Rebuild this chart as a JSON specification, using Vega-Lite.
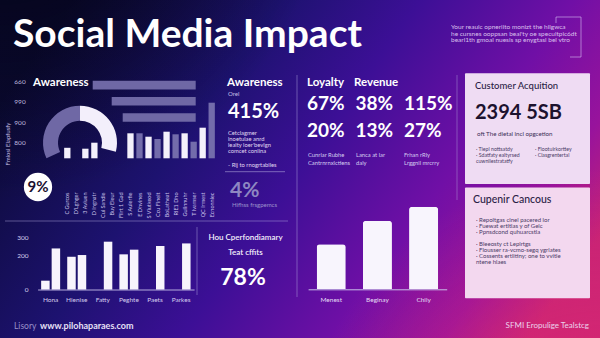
{
  "$schema": "https://vega.github.io/schema/vega-lite/v6.json",
  "width": 600,
  "height": 338,
  "autosize": {"type": "fit", "contains": "padding"},
  "padding": 0,
  "background": "#2a0f6e",
  "config": {"view": {"stroke": null}, "font": "Lato", "axis": {"labelFont": "Lato", "zindex": 1}},
  "resolve": {"scale": {"x": "independent", "y": "independent", "color": "independent", "theta": "independent", "xOffset": "independent"}},
  "layer": [
    {
      "data": {"values": [{"layer": "background"}]},
      "mark": {"type": "rect", "color": {"gradient": "linear", "x1": 0, "y1": 0.3, "x2": 1, "y2": 0.7, "stops": [{"offset": 0, "color": "#0b0a35"}, {"offset": 0.3, "color": "#1d1270"}, {"offset": 0.5, "color": "#3c0f96"}, {"offset": 0.72, "color": "#700fa6"}, {"offset": 0.88, "color": "#98139c"}, {"offset": 1, "color": "#c42276"}]}},
      "encoding": {}
    },
    {
      "data": {"values": [{"layer": "shade"}]},
      "mark": {"type": "rect", "color": {"gradient": "radial", "x1": 0, "y1": 0, "r1": 0, "x2": 0, "y2": 0, "r2": 0.55, "stops": [{"offset": 0, "color": "rgba(2,2,12,0.85)"}, {"offset": 1, "color": "rgba(2,2,12,0)"}]}},
      "encoding": {}
    },
    {
      "data": {"values": [{"layer": "glow"}]},
      "mark": {"type": "rect", "color": {"gradient": "radial", "x1": 1, "y1": 1, "r1": 0, "x2": 1, "y2": 1, "r2": 0.5, "stops": [{"offset": 0, "color": "rgba(235,45,110,0.65)"}, {"offset": 1, "color": "rgba(235,45,110,0)"}]}},
      "encoding": {}
    },
    {
      "data": {"values": [{"t": "Social Media Impact"}]},
      "mark": {"type": "text", "align": "left", "baseline": "alphabetic", "fontSize": 39, "fontWeight": "bold", "color": "#ffffff"},
      "encoding": {
        "text": {"field": "t"},
        "x": {"datum": 0, "type": "quantitative", "scale": {"domain": [0, 1], "range": [13, 14]}, "axis": null},
        "y": {"datum": 0, "type": "quantitative", "scale": {"domain": [0, 1], "range": [47, 48]}, "axis": null}
      }
    },
    {
      "data": {"values": [
        {"t": "Your reaulc opneriito monizt the hilgwca", "line": 1},
        {"t": "he cursnes ooppsan beal'ty oe specultpic6dt", "line": 2},
        {"t": "bearl1th gmoal nuesis sp enygtasl  bel vtro", "line": 3}
      ]},
      "mark": {"type": "text", "align": "left", "baseline": "middle", "fontSize": 6.5, "color": "#e2d2f5", "opacity": 0.9},
      "encoding": {
        "text": {"field": "t"},
        "x": {"datum": 0, "type": "quantitative", "scale": {"domain": [0, 1], "range": [451, 452]}, "axis": null},
        "y": {"field": "line", "type": "quantitative", "scale": {"domain": [1, 3], "range": [27, 40], "nice": false, "zero": false}, "axis": null}
      }
    },
    {
      "data": {"values": [{"part": "top"}]},
      "mark": {"type": "rule", "color": "#d6c0f2", "opacity": 0.6, "strokeWidth": 1},
      "encoding": {
        "x": {"datum": 0, "type": "quantitative", "scale": {"domain": [0, 1], "range": [556, 581]}, "axis": null},
        "x2": {"datum": 1},
        "y": {"datum": 0, "type": "quantitative", "scale": {"domain": [0, 1], "range": [17, 18]}, "axis": null}
      }
    },
    {
      "data": {"values": [{"part": "right"}]},
      "mark": {"type": "rule", "color": "#d6c0f2", "opacity": 0.6, "strokeWidth": 1},
      "encoding": {
        "x": {"datum": 0, "type": "quantitative", "scale": {"domain": [0, 1], "range": [581, 582]}, "axis": null},
        "y": {"datum": 0, "type": "quantitative", "scale": {"domain": [0, 1], "range": [17, 57]}, "axis": null},
        "y2": {"datum": 1}
      }
    },
    {
      "data": {"values": [{"part": "bottom"}]},
      "mark": {"type": "rule", "color": "#d6c0f2", "opacity": 0.6, "strokeWidth": 1},
      "encoding": {
        "x": {"datum": 0, "type": "quantitative", "scale": {"domain": [0, 1], "range": [570, 581]}, "axis": null},
        "x2": {"datum": 1},
        "y": {"datum": 0, "type": "quantitative", "scale": {"domain": [0, 1], "range": [57, 58]}, "axis": null}
      }
    },
    {
      "data": {"values": [{"part": "left"}]},
      "mark": {"type": "rule", "color": "#d6c0f2", "opacity": 0.6, "strokeWidth": 1},
      "encoding": {
        "x": {"datum": 0, "type": "quantitative", "scale": {"domain": [0, 1], "range": [556, 557]}, "axis": null},
        "y": {"datum": 0, "type": "quantitative", "scale": {"domain": [0, 1], "range": [17, 23]}, "axis": null},
        "y2": {"datum": 1}
      }
    },
    {
      "data": {"values": [{"divider": "kpi-left"}]},
      "mark": {"type": "rule", "color": "#b8aee2", "opacity": 0.45, "strokeWidth": 1},
      "encoding": {
        "x": {"datum": 0, "type": "quantitative", "scale": {"domain": [0, 1], "range": [297, 298]}, "axis": null},
        "y": {"datum": 0, "type": "quantitative", "scale": {"domain": [0, 1], "range": [75, 297]}, "axis": null},
        "y2": {"datum": 1}
      }
    },
    {
      "data": {"values": [{"divider": "kpi-right"}]},
      "mark": {"type": "rule", "color": "#b8aee2", "opacity": 0.4, "strokeWidth": 1},
      "encoding": {
        "x": {"datum": 0, "type": "quantitative", "scale": {"domain": [0, 1], "range": [457, 458]}, "axis": null},
        "y": {"datum": 0, "type": "quantitative", "scale": {"domain": [0, 1], "range": [75, 200]}, "axis": null},
        "y2": {"datum": 1}
      }
    },
    {
      "data": {"values": [{"divider": "middle-horizontal"}]},
      "mark": {"type": "rule", "color": "#b8aee2", "opacity": 0.45, "strokeWidth": 1},
      "encoding": {
        "x": {"datum": 0, "type": "quantitative", "scale": {"domain": [0, 1], "range": [5, 288]}, "axis": null},
        "x2": {"datum": 1},
        "y": {"datum": 0, "type": "quantitative", "scale": {"domain": [0, 1], "range": [221, 222]}, "axis": null}
      }
    },
    {
      "data": {"values": [{"divider": "bottom-left-vertical"}]},
      "mark": {"type": "rule", "color": "#b8aee2", "opacity": 0.45, "strokeWidth": 1},
      "encoding": {
        "x": {"datum": 0, "type": "quantitative", "scale": {"domain": [0, 1], "range": [197, 198]}, "axis": null},
        "y": {"datum": 0, "type": "quantitative", "scale": {"domain": [0, 1], "range": [227, 295]}, "axis": null},
        "y2": {"datum": 1}
      }
    },
    {
      "data": {"values": [{"divider": "awareness-note"}]},
      "mark": {"type": "rule", "color": "#b8aee2", "opacity": 0.55, "strokeWidth": 1},
      "encoding": {
        "x": {"datum": 0, "type": "quantitative", "scale": {"domain": [0, 1], "range": [225, 285]}, "axis": null},
        "x2": {"datum": 1},
        "y": {"datum": 0, "type": "quantitative", "scale": {"domain": [0, 1], "range": [171.7, 172.7]}, "axis": null}
      }
    },
    {
      "data": {"values": [
        {"t": "Awareness", "col": 1},
        {"t": "Awareness", "col": 2},
        {"t": "Loyalty", "col": 3},
        {"t": "Revenue", "col": 4}
      ]},
      "mark": {"type": "text", "align": "left", "baseline": "middle", "fontSize": 11.5, "fontWeight": "bold", "color": "#ffffff"},
      "encoding": {
        "text": {"field": "t"},
        "x": {"field": "col", "type": "quantitative", "scale": {"domain": [1, 2, 3, 4], "range": [33, 227, 307, 354], "nice": false, "zero": false}, "axis": null},
        "y": {"datum": 0, "type": "quantitative", "scale": {"domain": [0, 1], "range": [83, 84]}, "axis": null}
      }
    },
    {
      "data": {"values": [
        {"t": "660", "line": 1},
        {"t": "990", "line": 2},
        {"t": "900", "line": 3},
        {"t": "800", "line": 4}
      ]},
      "mark": {"type": "text", "align": "center", "baseline": "middle", "fontSize": 6.5, "color": "#bdb5de"},
      "encoding": {
        "text": {"field": "t"},
        "x": {"datum": 0, "type": "quantitative", "scale": {"domain": [0, 1], "range": [20, 21]}, "axis": null},
        "y": {"field": "line", "type": "quantitative", "scale": {"domain": [1, 4], "range": [82, 143], "nice": false, "zero": false}, "axis": null}
      }
    },
    {
      "data": {"values": [{"t": "Fmiosi Elapfusfy"}]},
      "mark": {"type": "text", "align": "center", "baseline": "middle", "angle": 270, "fontSize": 6, "color": "#c6bee6"},
      "encoding": {
        "text": {"field": "t"},
        "x": {"datum": 0, "type": "quantitative", "scale": {"domain": [0, 1], "range": [8, 9]}, "axis": null},
        "y": {"datum": 0, "type": "quantitative", "scale": {"domain": [0, 1], "range": [144, 145]}, "axis": null}
      }
    },
    {
      "data": {"values": [
        {"name": "Reach", "len": 103},
        {"name": "Engagement", "len": 84},
        {"name": "Mentions", "len": 73}
      ]},
      "mark": {"type": "bar", "color": "#6f68a5"},
      "encoding": {
        "x": {"field": "len", "type": "quantitative", "scale": {"domain": [0, 120], "range": [195.7, 75.7], "nice": false, "zero": false}, "axis": null},
        "y": {"field": "name", "type": "nominal", "scale": {"domain": ["Reach", "Engagement", "Mentions"], "range": [77, 125.6], "paddingInner": 0.47, "paddingOuter": 0.235}, "axis": null}
      }
    },
    {
      "data": {"values": [
        {"seg": "Base", "v": 115, "rank": 1},
        {"seg": "Growth", "v": 104, "rank": 2}
      ]},
      "mark": {"type": "arc", "radius": 37, "radius2": 22},
      "encoding": {
        "theta": {"field": "v", "type": "quantitative", "stack": true, "scale": {"range": [-2.007, 1.815]}},
        "order": {"field": "rank", "type": "quantitative"},
        "color": {"field": "seg", "type": "nominal", "scale": {"domain": ["Base", "Growth"], "range": ["#6f68a5", "#f3effb"]}, "legend": null},
        "x": {"datum": 0, "type": "quantitative", "scale": {"domain": [0, 1], "range": [80, 81]}, "axis": null},
        "y": {"datum": 0, "type": "quantitative", "scale": {"domain": [0, 1], "range": [142.7, 143.7]}, "axis": null}
      }
    },
    {
      "data": {"values": [
        {"cat": "C Gurcos", "v": 10.5, "tone": "light"},
        {"cat": "3 Aviuen", "v": 9.6, "tone": "light"},
        {"cat": "D Ingnatr", "v": 15.6, "tone": "light"},
        {"cat": "S Aulerfie", "v": 25, "tone": "light"},
        {"cat": "E Dhvines", "v": 25, "tone": "muted"},
        {"cat": "S Viutkeod", "v": 21.6, "tone": "light"},
        {"cat": "Ccu Finelt", "v": 19.3, "tone": "muted"},
        {"cat": "BoLatheat", "v": 26.6, "tone": "light"},
        {"cat": "RIE1 Dho", "v": 24, "tone": "muted"},
        {"cat": "Gulinnuhr", "v": 25, "tone": "light"},
        {"cat": "T Ivamser", "v": 16.6, "tone": "muted"},
        {"cat": "QC Irmest", "v": 30.6, "tone": "light"},
        {"cat": "Ecnonniec", "v": 55.6, "tone": "muted"}
      ]},
      "mark": {"type": "bar"},
      "encoding": {
        "x": {"field": "cat", "type": "nominal", "scale": {"domain": ["C Gurcos", "D'Lghger", "3 Aviuen", "D Ingnatr", "Cui Sandle", "Buy Eleur", "Flirt 1 Gad", "S Aulerfie", "E Dhvines", "S Viutkeod", "Ccu Finelt", "BoLatheat", "RIE1 Dho", "Gulinnuhr", "T Ivamser", "QC Irmest", "Ecnonniec"], "range": [62.8, 216.2], "paddingInner": 0.3, "paddingOuter": 0.15},
          "axis": {"orient": "bottom", "offset": -149, "zindex": 1, "title": null, "ticks": false, "domain": false, "grid": false, "labelAngle": 270, "labelAlign": "right", "labelBaseline": "middle", "labelFontSize": 5.5, "labelColor": "#cbc3ea", "labelPadding": 3, "labelOverlap": false}},
        "y": {"field": "v", "type": "quantitative", "scale": {"domain": [0, 60], "range": [158.3, 98.3], "nice": false, "zero": false}, "axis": null},
        "color": {"field": "tone", "type": "nominal", "scale": {"domain": ["light", "muted"], "range": ["#f4f1fb", "#736cab"]}, "legend": null}
      }
    },
    {
      "data": {"values": [{"t": "9%"}]},
      "encoding": {
        "x": {"datum": 0, "type": "quantitative", "scale": {"domain": [0, 1], "range": [38, 39]}, "axis": null},
        "y": {"datum": 0, "type": "quantitative", "scale": {"domain": [0, 1], "range": [187, 188]}, "axis": null}
      },
      "layer": [
        {"mark": {"type": "point", "shape": "circle", "filled": true, "size": 800, "color": "#ffffff", "opacity": 1}},
        {"mark": {"type": "text", "fontSize": 15, "fontWeight": "bold", "color": "#1a1030", "align": "center", "baseline": "middle"}, "encoding": {"text": {"field": "t"}}}
      ]
    },
    {
      "data": {"values": [{"t": "Orel"}]},
      "mark": {"type": "text", "align": "left", "baseline": "middle", "fontSize": 6, "color": "#c8c0e8"},
      "encoding": {
        "text": {"field": "t"},
        "x": {"datum": 0, "type": "quantitative", "scale": {"domain": [0, 1], "range": [228, 229]}, "axis": null},
        "y": {"datum": 0, "type": "quantitative", "scale": {"domain": [0, 1], "range": [94, 95]}, "axis": null}
      }
    },
    {
      "data": {"values": [{"t": "415%"}]},
      "mark": {"type": "text", "align": "left", "baseline": "middle", "fontSize": 20, "fontWeight": "bold", "color": "#ffffff"},
      "encoding": {
        "text": {"field": "t"},
        "x": {"datum": 0, "type": "quantitative", "scale": {"domain": [0, 1], "range": [228, 229]}, "axis": null},
        "y": {"datum": 0, "type": "quantitative", "scale": {"domain": [0, 1], "range": [112, 113]}, "axis": null}
      }
    },
    {
      "data": {"values": [
        {"t": "Cetclagmer", "line": 1},
        {"t": "lnoetulae anrd", "line": 2},
        {"t": "lealty loer'bevlgn", "line": 3},
        {"t": "comcet conlina", "line": 4},
        {"t": "- Rij to rnogrtabiles", "line": 5}
      ]},
      "mark": {"type": "text", "align": "left", "baseline": "middle", "fontSize": 5.8, "color": "#e0d8f2"},
      "encoding": {
        "text": {"field": "t"},
        "x": {"datum": 0, "type": "quantitative", "scale": {"domain": [0, 1], "range": [228, 229]}, "axis": null},
        "y": {"field": "line", "type": "quantitative", "scale": {"domain": [1, 4, 5], "range": [133, 151, 165], "nice": false, "zero": false}, "axis": null}
      }
    },
    {
      "data": {"values": [{"t": "4%"}]},
      "mark": {"type": "text", "align": "left", "baseline": "middle", "fontSize": 21, "fontWeight": "bold", "color": "#8e87c2"},
      "encoding": {
        "text": {"field": "t"},
        "x": {"datum": 0, "type": "quantitative", "scale": {"domain": [0, 1], "range": [230, 231]}, "axis": null},
        "y": {"datum": 0, "type": "quantitative", "scale": {"domain": [0, 1], "range": [191, 192]}, "axis": null}
      }
    },
    {
      "data": {"values": [{"t": "Hifhss frsgpemcs"}]},
      "mark": {"type": "text", "align": "left", "baseline": "middle", "fontSize": 6, "color": "#9c95cc"},
      "encoding": {
        "text": {"field": "t"},
        "x": {"datum": 0, "type": "quantitative", "scale": {"domain": [0, 1], "range": [232, 233]}, "axis": null},
        "y": {"datum": 0, "type": "quantitative", "scale": {"domain": [0, 1], "range": [205, 206]}, "axis": null}
      }
    },
    {
      "data": {"values": [
        {"t": "67%", "col": 1, "row": 1},
        {"t": "38%", "col": 2, "row": 1},
        {"t": "115%", "col": 3, "row": 1},
        {"t": "20%", "col": 1, "row": 2},
        {"t": "13%", "col": 2, "row": 2},
        {"t": "27%", "col": 3, "row": 2}
      ]},
      "mark": {"type": "text", "align": "left", "baseline": "middle", "fontSize": 19, "fontWeight": "bold", "color": "#ffffff"},
      "encoding": {
        "text": {"field": "t"},
        "x": {"field": "col", "type": "quantitative", "scale": {"domain": [1, 3], "range": [307, 404], "nice": false, "zero": false}, "axis": null},
        "y": {"field": "row", "type": "quantitative", "scale": {"domain": [1, 2], "range": [104, 130.5], "nice": false, "zero": false}, "axis": null}
      }
    },
    {
      "data": {"values": [
        {"t": "Cunrlar Rubhe", "col": 1, "line": 1},
        {"t": "Cantrnrnxlctiens", "col": 1, "line": 2},
        {"t": "Lanca at lar", "col": 2, "line": 1},
        {"t": "daly", "col": 2, "line": 2},
        {"t": "Frhan rRly", "col": 3, "line": 1},
        {"t": "Lrggnil mrcrry", "col": 3, "line": 2}
      ]},
      "mark": {"type": "text", "align": "left", "baseline": "middle", "fontSize": 5.8, "color": "#d6cdf0"},
      "encoding": {
        "text": {"field": "t"},
        "x": {"field": "col", "type": "quantitative", "scale": {"domain": [1, 3], "range": [308, 404], "nice": false, "zero": false}, "axis": null},
        "y": {"field": "line", "type": "quantitative", "scale": {"domain": [1, 2], "range": [155, 162.7], "nice": false, "zero": false}, "axis": null}
      }
    },
    {
      "data": {"values": [{"card": "Customer Acquisition"}, {"card": "Cupenir Cancous"}]},
      "mark": {"type": "rect", "cornerRadius": 1},
      "encoding": {
        "x": {"datum": 0, "type": "quantitative", "scale": {"domain": [0, 1], "range": [465, 590]}, "axis": null},
        "x2": {"datum": 1},
        "y": {"field": "card", "type": "nominal", "scale": {"domain": ["Customer Acquisition", "Cupenir Cancous"], "range": [73.3, 298.3], "paddingInner": 0.03, "paddingOuter": 0}, "axis": null},
        "color": {"field": "card", "type": "nominal", "scale": {"domain": ["Customer Acquisition", "Cupenir Cancous"], "range": ["#efdcf3", "#f3d8ef"]}, "legend": null}
      }
    },
    {
      "data": {"values": [{"t": "Customer Acquition"}]},
      "mark": {"type": "text", "align": "left", "baseline": "middle", "fontSize": 9.5, "fontWeight": 500, "color": "#2b1d45"},
      "encoding": {
        "text": {"field": "t"},
        "x": {"datum": 0, "type": "quantitative", "scale": {"domain": [0, 1], "range": [475, 476]}, "axis": null},
        "y": {"datum": 0, "type": "quantitative", "scale": {"domain": [0, 1], "range": [86, 87]}, "axis": null}
      }
    },
    {
      "data": {"values": [{"t": "2394 5SB"}]},
      "mark": {"type": "text", "align": "left", "baseline": "middle", "fontSize": 20, "fontWeight": "bold", "color": "#1c122e"},
      "encoding": {
        "text": {"field": "t"},
        "x": {"datum": 0, "type": "quantitative", "scale": {"domain": [0, 1], "range": [475, 476]}, "axis": null},
        "y": {"datum": 0, "type": "quantitative", "scale": {"domain": [0, 1], "range": [113, 114]}, "axis": null}
      }
    },
    {
      "data": {"values": [{"t": "oft The dietal incl opgcetion"}]},
      "mark": {"type": "text", "align": "left", "baseline": "middle", "fontSize": 6.2, "color": "#3b2d55"},
      "encoding": {
        "text": {"field": "t"},
        "x": {"datum": 0, "type": "quantitative", "scale": {"domain": [0, 1], "range": [477, 478]}, "axis": null},
        "y": {"datum": 0, "type": "quantitative", "scale": {"domain": [0, 1], "range": [133.5, 134.5]}, "axis": null}
      }
    },
    {
      "data": {"values": [
        {"t": "· Tiepl nottsatdy", "col": 1, "line": 1},
        {"t": "· Sdatfaty ealtyrsed", "col": 1, "line": 2},
        {"t": "  cuwnliestratatfy", "col": 1, "line": 3},
        {"t": "· Flootuirkorttey", "col": 2, "line": 1},
        {"t": "· Clasgrentertal", "col": 2, "line": 2}
      ]},
      "mark": {"type": "text", "align": "left", "baseline": "middle", "fontSize": 5.2, "color": "#4a3a66"},
      "encoding": {
        "text": {"field": "t"},
        "x": {"field": "col", "type": "quantitative", "scale": {"domain": [1, 2], "range": [476, 535], "nice": false, "zero": false}, "axis": null},
        "y": {"field": "line", "type": "quantitative", "scale": {"domain": [1, 3], "range": [149, 161], "nice": false, "zero": false}, "axis": null}
      }
    },
    {
      "data": {"values": [{"t": "Cupenir Cancous"}]},
      "mark": {"type": "text", "align": "left", "baseline": "middle", "fontSize": 10.5, "fontWeight": 500, "color": "#2b1d45"},
      "encoding": {
        "text": {"field": "t"},
        "x": {"datum": 0, "type": "quantitative", "scale": {"domain": [0, 1], "range": [473, 474]}, "axis": null},
        "y": {"datum": 0, "type": "quantitative", "scale": {"domain": [0, 1], "range": [200, 201]}, "axis": null}
      }
    },
    {
      "data": {"values": [
        {"t": "· Repoltgas clnel pacered lor", "line": 1},
        {"t": "· Fuewat ertltlas y of Gelc", "line": 2},
        {"t": "· Ppnsdcond quhuarcstla", "line": 3},
        {"t": "· Bleeosty ct Leplrtgs", "line": 5},
        {"t": "· Flousser ra-vcmo-segq ygrlates", "line": 6},
        {"t": "· Cossents ertlitiny; one to vvitle", "line": 7},
        {"t": "  ntene hlaes", "line": 8}
      ]},
      "mark": {"type": "text", "align": "left", "baseline": "middle", "fontSize": 6, "color": "#4a3a66"},
      "encoding": {
        "text": {"field": "t"},
        "x": {"datum": 0, "type": "quantitative", "scale": {"domain": [0, 1], "range": [476, 477]}, "axis": null},
        "y": {"field": "line", "type": "quantitative", "scale": {"domain": [1, 8], "range": [220, 261.7], "nice": false, "zero": false}, "axis": null}
      }
    },
    {
      "data": {"values": [
        {"group": "Hona", "series": "A", "v": 52},
        {"group": "Hona", "series": "B", "v": 238},
        {"group": "Hienise", "series": "A", "v": 190},
        {"group": "Hienise", "series": "B", "v": 200},
        {"group": "Fatty", "series": "B", "v": 277},
        {"group": "Peghte", "series": "A", "v": 204},
        {"group": "Peghte", "series": "B", "v": 231},
        {"group": "Paets", "series": "B", "v": 252},
        {"group": "Parkes", "series": "B", "v": 267}
      ]},
      "mark": {"type": "bar", "color": "#f7f4fc"},
      "encoding": {
        "x": {"field": "group", "type": "nominal", "scale": {"domain": ["Hona", "Hienise", "Fatty", "Peghte", "Paets", "Parkes"], "range": [37.6, 194.1], "paddingInner": 0, "paddingOuter": 0},
          "axis": {"orient": "bottom", "offset": -48.5, "zindex": 1, "title": null, "ticks": false, "domain": true, "domainColor": "#b4abdc", "domainWidth": 1, "grid": false, "labelColor": "#d4ccee", "labelFontSize": 6.5, "labelPadding": 7, "labelAngle": 0}},
        "xOffset": {"field": "series", "type": "nominal", "scale": {"domain": ["A", "B"], "paddingInner": 0.19, "paddingOuter": 0.337}},
        "y": {"field": "v", "type": "quantitative", "scale": {"domain": [0, 300], "range": [289.7, 237.7], "nice": false, "zero": false},
          "axis": {"orient": "left", "offset": -30, "zindex": 1, "values": [0, 200, 300], "title": null, "ticks": false, "domain": false, "grid": false, "labelColor": "#d4ccee", "labelFontSize": 6.5, "labelPadding": 2}}
      }
    },
    {
      "data": {"values": [
        {"t": "Hou Cperfondiamary", "line": 1},
        {"t": "Teat cffits", "line": 2}
      ]},
      "mark": {"type": "text", "align": "center", "baseline": "middle", "fontSize": 8, "fontWeight": 600, "color": "#f4f0fb"},
      "encoding": {
        "text": {"field": "t"},
        "x": {"datum": 0, "type": "quantitative", "scale": {"domain": [0, 1], "range": [245.5, 246.5]}, "axis": null},
        "y": {"field": "line", "type": "quantitative", "scale": {"domain": [1, 2], "range": [238, 253], "nice": false, "zero": false}, "axis": null}
      }
    },
    {
      "data": {"values": [{"t": "78%"}]},
      "mark": {"type": "text", "align": "center", "baseline": "middle", "fontSize": 23, "fontWeight": "bold", "color": "#ffffff"},
      "encoding": {
        "text": {"field": "t"},
        "x": {"datum": 0, "type": "quantitative", "scale": {"domain": [0, 1], "range": [243, 244]}, "axis": null},
        "y": {"datum": 0, "type": "quantitative", "scale": {"domain": [0, 1], "range": [278, 279]}, "axis": null}
      }
    },
    {
      "data": {"values": [
        {"cat": "Menest", "v": 45},
        {"cat": "Beginay", "v": 68.6},
        {"cat": "Chily", "v": 82.6}
      ]},
      "mark": {"type": "bar", "color": "#f8f5fd", "cornerRadiusTopLeft": 3, "cornerRadiusTopRight": 3},
      "encoding": {
        "x": {"field": "cat", "type": "nominal", "scale": {"domain": ["Menest", "Beginay", "Chily"], "range": [308.1, 446.7], "paddingInner": 0.37, "paddingOuter": 0.185},
          "axis": {"orient": "bottom", "offset": -48.7, "zindex": 1, "title": null, "ticks": false, "domain": true, "domainColor": "#c8bfe8", "domainWidth": 1, "grid": false, "labelColor": "#e4dcf4", "labelFontSize": 6.5, "labelPadding": 7, "labelAngle": 0}},
        "y": {"field": "v", "type": "quantitative", "scale": {"domain": [0, 100], "range": [289.3, 189.3], "nice": false, "zero": false}, "axis": null}
      }
    },
    {
      "data": {"values": [{"t": "Lisory"}]},
      "mark": {"type": "text", "align": "left", "baseline": "middle", "fontSize": 8.5, "color": "#9a90c8"},
      "encoding": {
        "text": {"field": "t"},
        "x": {"datum": 0, "type": "quantitative", "scale": {"domain": [0, 1], "range": [14, 15]}, "axis": null},
        "y": {"datum": 0, "type": "quantitative", "scale": {"domain": [0, 1], "range": [326, 327]}, "axis": null}
      }
    },
    {
      "data": {"values": [{"t": "www.pilohaparaes.com"}]},
      "mark": {"type": "text", "align": "left", "baseline": "middle", "fontSize": 9, "fontWeight": "bold", "color": "#e6e0f6"},
      "encoding": {
        "text": {"field": "t"},
        "x": {"datum": 0, "type": "quantitative", "scale": {"domain": [0, 1], "range": [40, 41]}, "axis": null},
        "y": {"datum": 0, "type": "quantitative", "scale": {"domain": [0, 1], "range": [326, 327]}, "axis": null}
      }
    },
    {
      "data": {"values": [{"t": "SFMI Eropulige Tealstcg"}]},
      "mark": {"type": "text", "align": "right", "baseline": "middle", "fontSize": 8, "color": "#ecd2ec"},
      "encoding": {
        "text": {"field": "t"},
        "x": {"datum": 0, "type": "quantitative", "scale": {"domain": [0, 1], "range": [589, 590]}, "axis": null},
        "y": {"datum": 0, "type": "quantitative", "scale": {"domain": [0, 1], "range": [326, 327]}, "axis": null}
      }
    }
  ]
}
